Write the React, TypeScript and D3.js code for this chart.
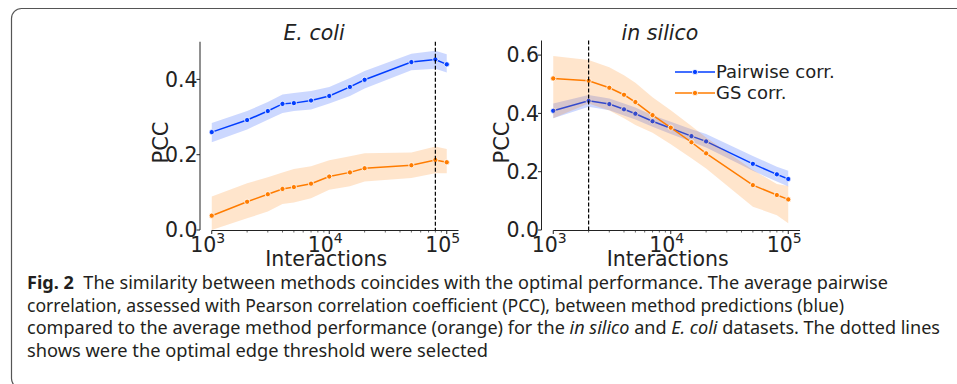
import React from "react";
import * as d3 from "d3";

const interactions = [1000, 2000, 3000, 4000, 5000, 7000, 10000, 15000, 20000, 50000, 80000, 100000];

const ecoliPair = [0.260, 0.292, 0.316, 0.335, 0.337, 0.344, 0.356, 0.380, 0.399, 0.446, 0.453, 0.440];
const ecoliPairLo = [0.233, 0.267, 0.293, 0.311, 0.316, 0.320, 0.336, 0.356, 0.376, 0.424, 0.428, 0.418];
const ecoliPairHi = [0.284, 0.316, 0.340, 0.360, 0.364, 0.369, 0.380, 0.404, 0.422, 0.468, 0.476, 0.467];
const ecoliGS = [0.038, 0.075, 0.095, 0.109, 0.114, 0.123, 0.142, 0.153, 0.164, 0.172, 0.186, 0.180];
const ecoliGSLo = [0.000, 0.031, 0.049, 0.069, 0.073, 0.084, 0.107, 0.116, 0.129, 0.138, 0.151, 0.151];
const ecoliGSHi = [0.089, 0.124, 0.140, 0.153, 0.162, 0.169, 0.185, 0.196, 0.204, 0.206, 0.222, 0.215];

const silicoPair = [0.409, 0.443, 0.432, 0.414, 0.399, 0.373, 0.349, 0.322, 0.304, 0.227, 0.191, 0.175];
const silicoPairLo = [0.383, 0.423, 0.411, 0.393, 0.379, 0.354, 0.329, 0.303, 0.283, 0.203, 0.166, 0.149];
const silicoPairHi = [0.434, 0.463, 0.451, 0.434, 0.420, 0.394, 0.371, 0.346, 0.329, 0.254, 0.217, 0.203];
const silicoGS = [0.520, 0.512, 0.488, 0.464, 0.439, 0.394, 0.351, 0.301, 0.263, 0.154, 0.120, 0.105];
const silicoGSLo = [0.383, 0.434, 0.410, 0.383, 0.360, 0.334, 0.294, 0.246, 0.211, 0.080, 0.051, 0.023];
const silicoGSHi = [0.597, 0.583, 0.558, 0.531, 0.505, 0.455, 0.411, 0.357, 0.317, 0.206, 0.158, 0.151];

const yTicksEcoli = [0, 0.2, 0.4];
const yTicksSilico = [0, 0.2, 0.4, 0.6];
const xMajorTicks = [1000, 10000, 100000];
const xTickExps = ["3", "4", "5"];
const legendLabels = ["Pairwise corr.", "GS corr."];

const BLUE = "#023eff";
const ORANGE = "#ff7c00";
const FONT = "DejaVu Sans, sans-serif";
const INK = "#222";

type Series = { mean: number[]; lo: number[]; hi: number[]; color: string };

type PanelProps = {
  title: string;
  x0: number;
  yMax: number;
  pxPerUnit: number;
  yTicks: number[];
  vline: number;
  titleX: number;
  series: Series[];
  legend: boolean;
};

function Panel({ title, x0, yMax, pxPerUnit, yTicks, vline, titleX, series, legend }: PanelProps) {
  const decade = 117.5;
  const x = d3.scaleLog().domain([Math.pow(10, 2.9), Math.pow(10, 5.1)]).range([x0, x0 + decade * 2.2]);
  const y = d3.scaleLinear().domain([0, yMax]).range([230, 230 - yMax * pxPerUnit]);
  const [r0, r1] = x.range();
  const yTop = y(yMax);
  const line = d3
    .line<number>()
    .x((_, i) => x(interactions[i]))
    .y((d) => y(d));
  const area = (lo: number[], hi: number[]) =>
    d3
      .area<number>()
      .x((_, i) => x(interactions[i]))
      .y0((_, i) => y(lo[i]))
      .y1((_, i) => y(hi[i]))(interactions);

  const minor: number[] = [];
  for (let e = 3; e <= 4; e++) for (let m = 2; m <= 9; m++) minor.push(m * Math.pow(10, e));

  const mid = (r0 + r1) / 2;
  return (
    <g>
      {series.map((s, k) => (
        <g key={k}>
          <path d={area(s.lo, s.hi) || ""} fill={s.color} fillOpacity={0.2} stroke="none" />
          <path d={line(s.mean) || ""} fill="none" stroke={s.color} strokeWidth={1.5} />
          {s.mean.map((v, i) => (
            <circle key={i} cx={x(interactions[i])} cy={y(v)} r={2.6} fill={s.color} stroke="#fff" strokeWidth={0.8} />
          ))}
        </g>
      ))}
      <line x1={x(vline)} x2={x(vline)} y1={yTop} y2={230} stroke="#000" strokeWidth={1.2} strokeDasharray="4,2" />
      <line x1={r0} x2={r0} y1={yTop} y2={230} stroke={INK} strokeWidth={1} />
      <line x1={x(1000)} x2={r1} y1={230.5} y2={230.5} stroke={INK} strokeWidth={1} />
      {yTicks.map((t) => (
        <g key={t}>
          <line x1={r0 - 3.5} x2={r0} y1={y(t)} y2={y(t)} stroke={INK} strokeWidth={1} />
          <text x={r0 - 2.5} y={y(t)} dy="0.36em" textAnchor="end" fontSize={20.5} fontFamily={FONT} fill={INK}>
            {t.toFixed(1)}
          </text>
        </g>
      ))}
      {minor.map((t) => (
        <line key={t} x1={x(t)} x2={x(t)} y1={230.5} y2={232.5} stroke={INK} strokeWidth={0.7} />
      ))}
      {xMajorTicks.map((t, i) => (
        <g key={t}>
          <line x1={x(t)} x2={x(t)} y1={230.5} y2={234} stroke={INK} strokeWidth={1} />
          <text x={x(t) - 4} y={251.5} textAnchor="middle" fontSize={20.5} fontFamily={FONT} fill={INK}>
            10
            <tspan fontSize={14} dy={-9}>
              {xTickExps[i]}
            </tspan>
          </text>
        </g>
      ))}
      <text x={mid - 3} y={266} textAnchor="middle" fontSize={20.5} fontFamily={FONT} fill={INK}>
        Interactions
      </text>
      <text
        transform={`translate(${r0 - 40},${142.5}) rotate(-90)`}
        textAnchor="middle"
        dy="0.36em"
        fontSize={21}
        fontFamily={FONT}
        fill={INK}
      >
        PCC
      </text>
      <text x={titleX} y={39.5} textAnchor="middle" fontSize={20.5} fontStyle="italic" fontFamily={FONT} fill={INK}>
        {title}
      </text>
      {legend &&
        legendLabels.map((lab, i) => {
          const ly = 72 + i * 21;
          const c = series[i].color;
          return (
            <g key={lab}>
              <line x1={675} x2={715} y1={ly} y2={ly} stroke={c} strokeWidth={1.5} />
              <circle cx={695} cy={ly} r={2.6} fill={c} stroke="#fff" strokeWidth={0.8} />
              <text x={716} y={ly} dy="0.36em" fontSize={18} fontFamily={FONT} fill={INK}>
                {lab}
              </text>
            </g>
          );
        })}
    </g>
  );
}

export default function App() {
  return (
    <div style={{ position: "fixed", left: 0, top: 0 }}>
      <svg width={957} height={384} style={{ display: "block", background: "#fff" }}>
        <rect x={11.5} y={8.5} width={1000} height={380} rx={10} ry={10} fill="none" stroke="#555" strokeWidth={1.2} />
        <Panel
          title="E. coli"
          x0={200}
          yMax={0.5}
          pxPerUnit={376.5}
          yTicks={yTicksEcoli}
          vline={80000}
          titleX={314}
          legend={false}
          series={[
            { mean: ecoliPair, lo: ecoliPairLo, hi: ecoliPairHi, color: BLUE },
            { mean: ecoliGS, lo: ecoliGSLo, hi: ecoliGSHi, color: ORANGE },
          ]}
        />
        <Panel
          title="in silico"
          x0={541.5}
          yMax={0.65}
          pxPerUnit={291.5}
          yTicks={yTicksSilico}
          vline={2000}
          titleX={660}
          legend={true}
          series={[
            { mean: silicoPair, lo: silicoPairLo, hi: silicoPairHi, color: BLUE },
            { mean: silicoGS, lo: silicoGSLo, hi: silicoGSHi, color: ORANGE },
          ]}
        />
        <g fontFamily="Noto Sans, sans-serif" fontSize={18} fill="#231f20">
          <text x={27} y={289} textLength={861} lengthAdjust="spacingAndGlyphs">
            <tspan fontWeight="bold">Fig. 2</tspan>
            {"\u00a0\u00a0The similarity between methods coincides with the optimal performance. The average pairwise"}
          </text>
          <text x={27} y={311.5} textLength={817} lengthAdjust="spacingAndGlyphs">
            correlation, assessed with Pearson correlation coefficient (PCC), between method predictions (blue)
          </text>
          <text x={27} y={334} textLength={913} lengthAdjust="spacingAndGlyphs">
            {"compared to the average method performance (orange) for the "}
            <tspan fontStyle="italic">in silico</tspan>
            {" and "}
            <tspan fontStyle="italic">E. coli</tspan>
            {" datasets. The dotted lines"}
          </text>
          <text x={27} y={356.5} textLength={461} lengthAdjust="spacingAndGlyphs">
            shows were the optimal edge threshold were selected
          </text>
        </g>
      </svg>
    </div>
  );
}
